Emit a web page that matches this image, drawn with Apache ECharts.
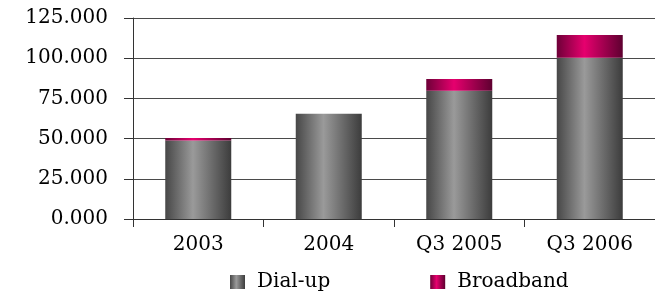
<!DOCTYPE html>
<html>
<head>
<meta charset="utf-8">
<script src="https://cdn.jsdelivr.net/npm/echarts@6/dist/echarts.min.js"></script>
<style>
  html, body { margin: 0; padding: 0; background: #fff; }
  #chart { width: 655px; height: 292px; }
</style>
</head>
<body>
<div id="chart"></div>
<script>
// data (thousands)
const categories = ['2003', '2004', 'Q3 2005', 'Q3 2006'];
const dialUp = [48.8, 65.4, 79.7, 100.3];
const broadband = [1.5, 0, 7.4, 14.2];
const yMax = 125;
const yStep = 25;

const font = 'DejaVu Serif';

// horizontal gradients to mimic the cylinder look
function shade(edgeL, mid, edgeR) {
  return new echarts.graphic.LinearGradient(0, 0, 1, 0, [
    { offset: 0, color: edgeL },
    { offset: 0.42, color: mid },
    { offset: 1, color: edgeR }
  ]);
}

const chart = echarts.init(document.getElementById('chart'));
chart.setOption({
  animation: false,
  grid: { left: 133, right: 0, top: 18, bottom: 73 },
  legend: {
    left: 230,
    top: 272,
    padding: 0,
    icon: 'rect',
    itemWidth: 15,
    itemHeight: 14,
    itemGap: 100,
    textStyle: { fontFamily: font, fontSize: 20, color: '#000', padding: [0, 0, 0, 7] },
    data: ['Dial-up', 'Broadband']
  },
  xAxis: {
    type: 'category',
    data: categories,
    axisLine: { lineStyle: { color: '#333', width: 1 } },
    axisTick: { show: true, length: 8, lineStyle: { color: '#333' } },
    axisLabel: { margin: 16, fontFamily: font, fontSize: 20, color: '#000' }
  },
  yAxis: {
    type: 'value',
    min: 0,
    max: yMax,
    interval: yStep,
    axisLine: { show: true, lineStyle: { color: '#333', width: 1 } },
    axisTick: { show: true, length: 9, lineStyle: { color: '#333' } },
    splitLine: { lineStyle: { color: '#4a4a4a', width: 1 } },
    axisLabel: {
      margin: 25,
      fontFamily: font,
      fontSize: 20,
      color: '#000',
      formatter: v => v.toFixed(3)
    }
  },
  series: [
    {
      name: 'Dial-up',
      type: 'bar',
      stack: 'total',
      barWidth: 66,
      data: dialUp,
      itemStyle: { color: shade('#474747', '#9a9a9a', '#3c3c3c') }
    },
    {
      name: 'Broadband',
      type: 'bar',
      stack: 'total',
      barWidth: 66,
      data: broadband,
      itemStyle: { color: shade('#6e0038', '#e6006e', '#5e0030') }
    }
  ]
});
</script>
</body>
</html>
